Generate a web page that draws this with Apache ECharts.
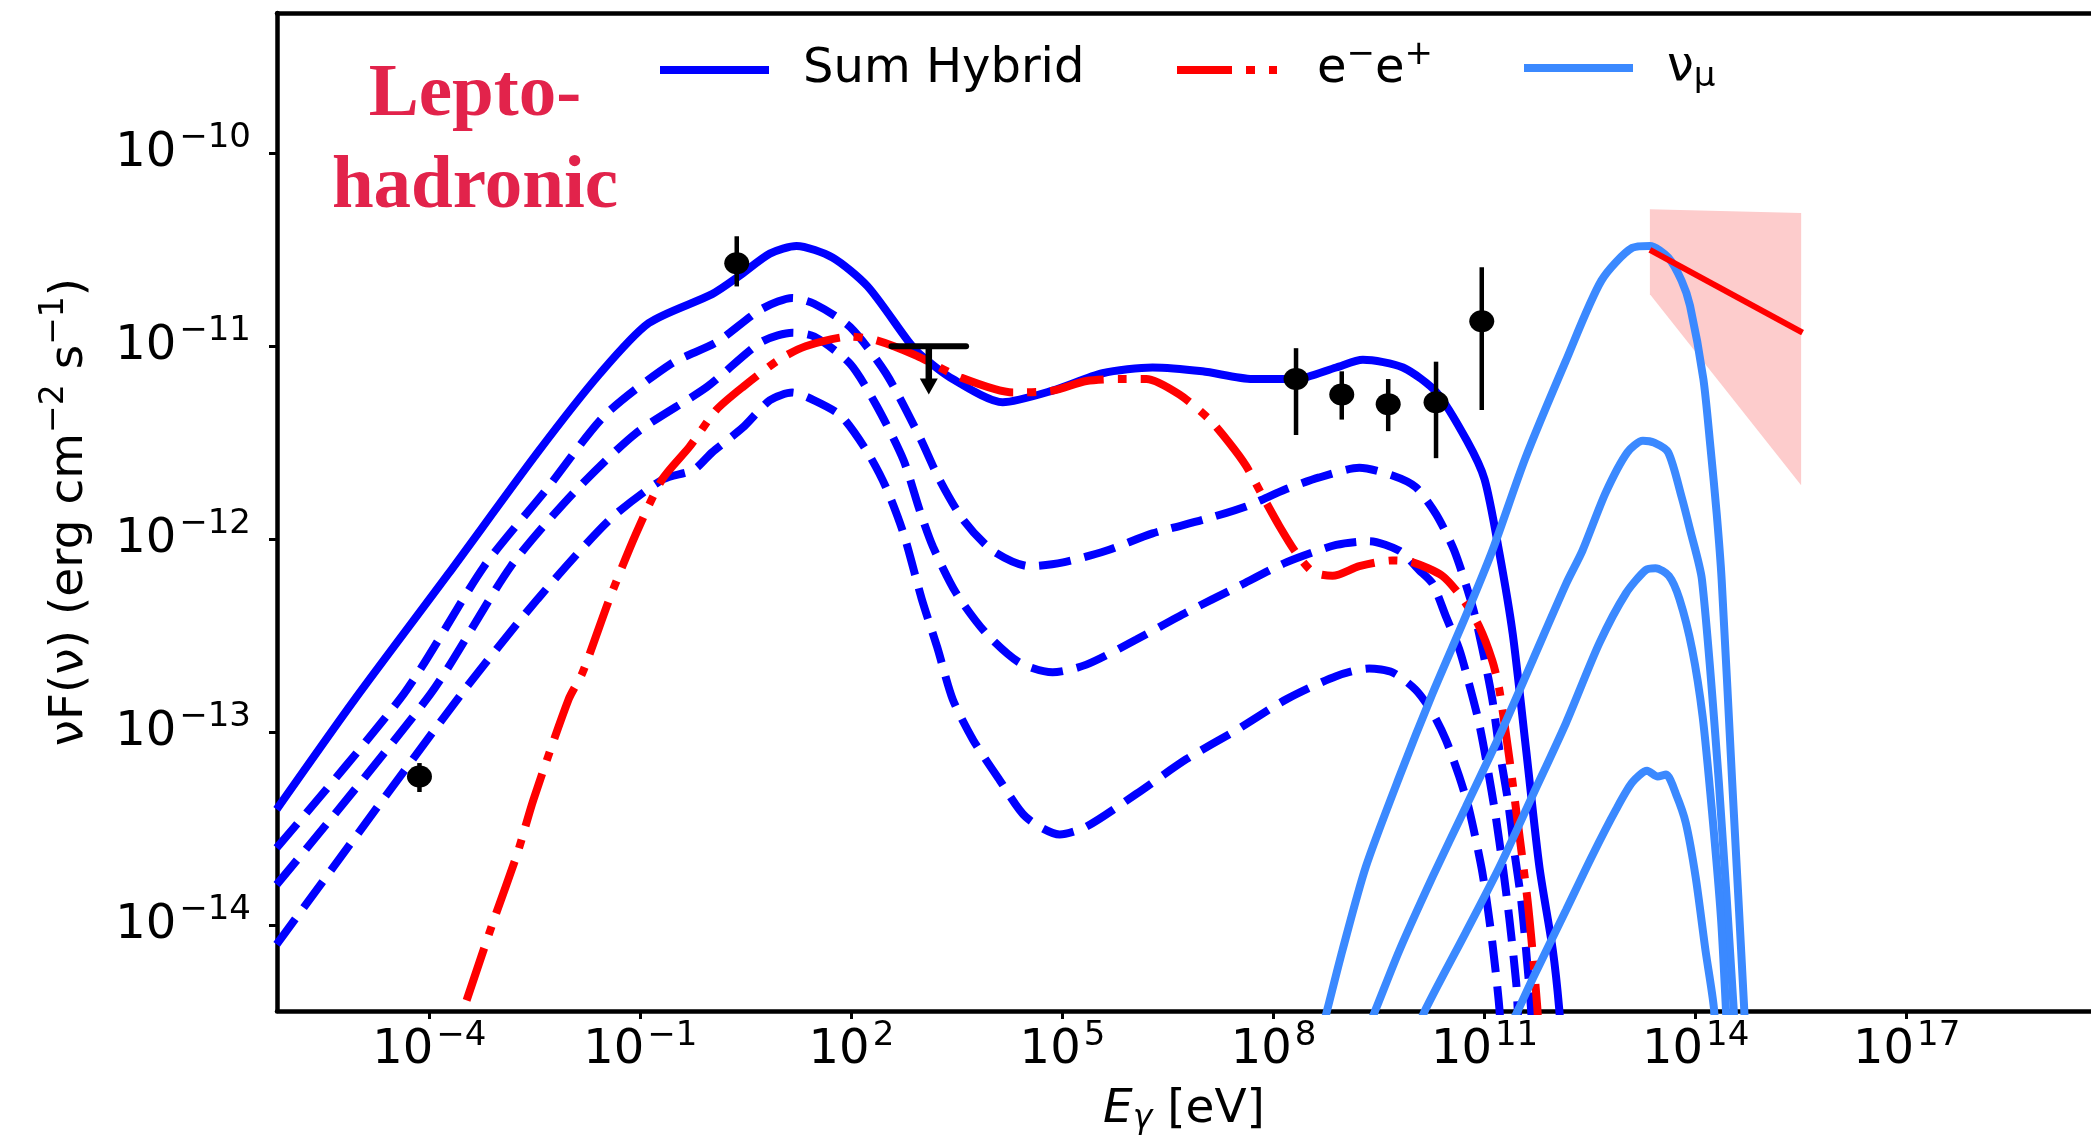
<!DOCTYPE html>
<html>
<head>
<meta charset="utf-8">
<title>Lepto-hadronic SED</title>
<script src="https://cdn.jsdelivr.net/npm/echarts@6.0.0/dist/echarts.min.js"></script>
<style>
  html, body { margin: 0; padding: 0; background: #ffffff; }
  #chart { width: 2091px; height: 1138px; }
</style>
</head>
<body>
<div id="chart"></div>
<script>
// every value below is a log10: x = log10(E / eV), y = log10(nuF(nu) / erg cm^-2 s^-1)
var xTicks = [-4, -1, 2, 5, 8, 11, 14, 17];
var yTicks = [-14, -13, -12, -11, -10];

// total hybrid model
var sumHybrid = [
  [-6.17, -13.40], [-5.06, -12.83], [-3.73, -12.18], [-2.46, -11.55], [-1.57, -11.14],
  [-0.88, -10.88], [0.02, -10.73], [0.39, -10.64], [0.84, -10.52], [1.22, -10.48],
  [1.73, -10.54], [2.23, -10.69], [2.80, -10.97], [2.97, -11.04], [3.44, -11.17],
  [4.15, -11.29], [4.86, -11.23], [5.57, -11.14], [6.28, -11.11], [6.99, -11.13],
  [7.70, -11.17], [8.32, -11.17], [8.89, -11.11], [9.27, -11.07], [9.84, -11.11],
  [10.32, -11.24], [10.75, -11.49], [11.00, -11.69], [11.21, -12.07], [11.40, -12.49],
  [11.59, -13.09], [11.78, -13.70], [11.97, -14.13], [12.06, -14.43], [12.12, -14.75]
];
// dashed hybrid curves (no legend entry)
var hybridA = [
  [-6.17, -13.60], [-4.36, -12.80], [-3.22, -12.14], [-2.33, -11.74], [-1.51, -11.36],
  [-0.56, -11.09], [0.08, -10.98], [0.71, -10.81], [1.16, -10.75], [1.47, -10.78],
  [1.98, -10.90], [2.49, -11.14], [2.97, -11.47], [3.25, -11.69], [3.59, -11.90],
  [4.01, -12.06], [4.53, -12.14], [5.01, -12.12], [5.62, -12.06], [6.28, -11.97],
  [6.99, -11.90], [7.61, -11.83], [8.18, -11.74], [8.65, -11.68], [9.22, -11.63],
  [9.69, -11.67], [10.02, -11.73], [10.31, -11.87], [10.57, -12.06], [10.83, -12.35],
  [10.97, -12.57], [11.11, -12.83], [11.21, -13.09], [11.33, -13.35], [11.42, -13.61],
  [11.52, -13.87], [11.59, -14.13], [11.66, -14.43], [11.70, -14.70]
];
var hybridB = [
  [-6.17, -13.79], [-3.98, -12.80], [-2.84, -12.14], [-1.95, -11.76], [-1.06, -11.45],
  [-0.05, -11.21], [0.71, -10.98], [1.16, -10.93], [1.47, -10.95], [1.98, -11.09],
  [2.36, -11.31], [2.74, -11.59], [2.97, -11.85], [3.16, -12.04], [3.49, -12.28],
  [3.92, -12.49], [4.39, -12.64], [4.86, -12.69], [5.34, -12.65], [6.05, -12.52],
  [6.76, -12.38], [7.47, -12.25], [8.18, -12.12], [8.89, -12.03], [9.36, -12.01],
  [9.79, -12.06], [10.07, -12.16], [10.26, -12.23], [10.45, -12.40], [10.64, -12.57],
  [10.78, -12.75], [10.92, -12.95], [11.04, -13.18], [11.16, -13.44], [11.26, -13.70],
  [11.35, -13.96], [11.45, -14.30], [11.47, -14.43], [11.50, -14.70]
];
var hybridC = [
  [-6.17, -14.10], [-3.54, -12.80], [-2.46, -12.31], [-1.44, -11.90], [-0.68, -11.69],
  [-0.24, -11.64], [0.02, -11.55], [0.46, -11.42], [0.84, -11.28], [1.16, -11.24],
  [1.47, -11.28], [1.85, -11.36], [2.23, -11.55], [2.49, -11.73], [2.74, -11.97],
  [3.00, -12.31], [3.22, -12.56], [3.44, -12.83], [3.73, -13.04], [4.11, -13.25],
  [4.48, -13.44], [4.96, -13.53], [5.34, -13.49], [6.05, -13.32], [6.76, -13.14],
  [7.47, -12.99], [8.18, -12.83], [8.89, -12.71], [9.36, -12.67], [9.69, -12.69],
  [10.02, -12.78], [10.26, -12.90], [10.45, -13.04], [10.64, -13.23], [10.78, -13.40],
  [10.97, -13.73], [11.11, -14.09], [11.21, -14.43], [11.25, -14.70]
];
// pair component e-e+
var pairs = [
  [-3.47, -14.39], [-3.09, -13.98], [-2.75, -13.63], [-2.52, -13.35], [-2.02, -12.83],
  [-1.82, -12.69], [-1.44, -12.31], [-1.06, -11.97], [-0.69, -11.69], [-0.30, -11.52],
  [0.08, -11.33], [0.46, -11.21], [0.97, -11.07], [1.35, -11.00], [1.98, -10.95],
  [2.36, -10.97], [2.93, -11.05], [3.54, -11.16], [4.30, -11.24], [4.86, -11.23],
  [5.34, -11.18], [5.81, -11.17], [6.19, -11.17], [6.66, -11.25], [7.09, -11.38],
  [7.37, -11.50], [7.61, -11.62], [7.85, -11.78], [8.08, -11.93], [8.32, -12.07],
  [8.56, -12.17], [8.84, -12.19], [9.22, -12.14], [9.69, -12.11], [9.98, -12.12],
  [10.40, -12.19], [10.69, -12.31], [10.92, -12.45], [11.11, -12.63], [11.21, -12.78],
  [11.35, -13.13], [11.49, -13.52], [11.61, -13.87], [11.68, -14.13], [11.75, -14.43],
  [11.79, -14.70]
];
// muon neutrino curves
var nuA = [
  [8.58, -14.70], [8.77, -14.43], [8.98, -14.13], [9.31, -13.70], [9.79, -13.23],
  [10.26, -12.80], [10.73, -12.40], [11.11, -12.06], [11.58, -11.58], [12.15, -11.08],
  [12.66, -10.66], [13.10, -10.49], [13.35, -10.48], [13.61, -10.54], [13.80, -10.66],
  [13.92, -10.79], [14.11, -11.17], [14.21, -11.52], [14.30, -11.87], [14.37, -12.21],
  [14.52, -13.26], [14.69, -14.43], [14.72, -14.70]
];
var nuB = [
  [9.16, -14.70], [9.46, -14.43], [9.79, -14.13], [10.26, -13.75], [10.73, -13.39],
  [11.21, -13.02], [11.68, -12.63], [12.16, -12.23], [12.39, -12.06], [12.72, -11.76],
  [13.03, -11.55], [13.25, -11.49], [13.41, -11.50], [13.61, -11.55], [13.80, -11.78],
  [13.92, -11.95], [14.09, -12.21], [14.33, -13.26], [14.54, -14.43], [14.57, -14.70]
];
var nuC = [
  [9.85, -14.70], [10.17, -14.43], [10.73, -14.04], [11.21, -13.70], [11.68, -13.33],
  [12.16, -12.95], [12.63, -12.54], [13.01, -12.28], [13.29, -12.16], [13.43, -12.15],
  [13.62, -12.19], [13.77, -12.31], [13.95, -12.57], [14.10, -12.92], [14.24, -13.44],
  [14.36, -13.96], [14.43, -14.43], [14.46, -14.70]
];
var nuD = [
  [11.13, -14.70], [11.49, -14.43], [11.68, -14.28], [12.16, -13.92], [12.53, -13.64],
  [12.87, -13.40], [13.10, -13.26], [13.31, -13.20], [13.46, -13.23], [13.58, -13.22],
  [13.72, -13.32], [13.86, -13.47], [14.00, -13.75], [14.14, -14.13], [14.26, -14.43],
  [14.29, -14.70]
];

// measured fluxes with error bars
var pointsX = [-4.14, 0.37, 8.32, 8.97, 9.63, 10.31, 10.96];
var pointsY = [-13.23, -10.57, -11.17, -11.25, -11.30, -11.29, -10.87];
var errLow = [-13.31, -10.69, -11.46, -11.38, -11.44, -11.58, -11.33];
var errHigh = [-13.16, -10.43, -11.01, -11.13, -11.17, -11.08, -10.59];

// upper limit: centre, x extent, arrow tip
var ulX = 3.10, ulY = -11.00, ulXLow = 2.57, ulXHigh = 3.63, ulTip = -11.25;

// neutrino power law and its band
var plX = [13.35, 15.52];
var plY = [-10.50, -10.93];
var bandX = [13.35, 15.50];
var bandLow = [-10.73, -11.72];
var bandHigh = [-10.29, -10.31];

var FONT = 'DejaVu Sans';
var supStyle = { fontSize: 34, fontFamily: FONT, color: '#000', padding: [0, 0, 30, 3] };

function pow10(v) {
  return '{b|10}{s|' + (v < 0 ? '\u2212' : '') + Math.abs(v) + '}';
}

function curve(name, data, color, type) {
  return {
    type: 'line',
    name: name,
    data: data,
    symbol: 'none',
    smooth: 0.25,
    clip: true,
    lineStyle: { color: color, width: 8, type: type, cap: 'butt' },
    itemStyle: { color: color }
  };
}

var dashed = [32, 14];
var dashDot = [55, 14, 9, 14];
var nuColor = '#3b89ff';

function legendOf(name, left, top, width, gap, lineType, formatter, rich) {
  return {
    data: [name],
    left: left,
    top: top,
    padding: 0,
    itemWidth: width,
    itemHeight: 20,
    formatter: formatter,
    lineStyle: { width: 8, type: lineType, cap: 'butt' },
    itemStyle: { opacity: 0 },
    textStyle: { fontSize: 48, fontFamily: FONT, color: '#000', padding: [0, 0, 0, gap], rich: rich }
  };
}

var myChart = echarts.init(document.getElementById('chart'));

var option = {
  animation: false,
  backgroundColor: '#ffffff',
  grid: { left: 277, right: 0, top: 13, bottom: 127, outerBoundsMode: 'none' },
  xAxis: [
    {
      type: 'value',
      min: -6.165,
      max: 19.62,
      position: 'bottom',
      axisLine: { show: true, onZero: false, lineStyle: { color: '#000', width: 4.5 } },
      axisTick: { show: true, customValues: xTicks, length: 8, lineStyle: { color: '#000', width: 3 } },
      axisLabel: {
        customValues: xTicks,
        margin: 8,
        formatter: pow10,
        rich: { b: { fontSize: 48, fontFamily: FONT, color: '#000' }, s: supStyle }
      },
      splitLine: { show: false },
      name: '{i|E}{u|\u03b3}{n| [eV]}',
      nameLocation: 'middle',
      nameGap: 72,
      nameMoveOverlap: false,
      nameTextStyle: {
        rich: {
          i: { fontSize: 47, fontFamily: FONT, fontStyle: 'italic', color: '#000' },
          u: { fontSize: 33, fontFamily: FONT, fontStyle: 'italic', color: '#000', padding: [20, 0, 0, 0] },
          n: { fontSize: 47, fontFamily: FONT, color: '#000' }
        }
      }
    },
    {
      type: 'value',
      min: -6.165,
      max: 19.62,
      position: 'top',
      axisLine: { show: true, onZero: false, lineStyle: { color: '#000', width: 4.5 } },
      axisTick: { show: false },
      axisLabel: { show: false },
      splitLine: { show: false }
    }
  ],
  yAxis: {
    type: 'value',
    min: -14.445,
    max: -9.273,
    axisLine: { show: true, onZero: false, lineStyle: { color: '#000', width: 4.5 } },
    axisTick: { show: true, customValues: yTicks, length: 8, lineStyle: { color: '#000', width: 3 } },
    axisLabel: {
      customValues: yTicks,
      margin: 26,
      formatter: pow10,
      rich: { b: { fontSize: 48, fontFamily: FONT, color: '#000' }, s: supStyle }
    },
    splitLine: { show: false },
    name: '{n|\u03bdF(\u03bd) (erg cm}{s|\u22122}{n| s}{s|\u22121}{n|)}',
    nameLocation: 'middle',
    nameGap: 176,
    nameMoveOverlap: false,
    nameTextStyle: {
      rich: {
        n: { fontSize: 47, fontFamily: FONT, color: '#000' },
        s: { fontSize: 33, fontFamily: FONT, color: '#000', padding: [0, 0, 30, 0] }
      }
    }
  },
  legend: [
    legendOf('Sum Hybrid', 656, 46, 109, 29, 'solid'),
    legendOf('e-e+', 1173, 38, 100, 35, dashDot,
      function () { return '{n|e}{s|\u2212}{n|e}{s|+}'; },
      { n: { fontSize: 48, fontFamily: FONT, color: '#000' },
        s: { fontSize: 34, fontFamily: FONT, color: '#000', padding: [0, 0, 30, 0] } }),
    legendOf('nu_mu', 1520, 44, 109, 29, 'solid',
      function () { return '{n|\u03bd}{u|\u03bc}'; },
      { n: { fontSize: 48, fontFamily: FONT, color: '#000' },
        u: { fontSize: 34, fontFamily: FONT, color: '#000', padding: [18, 0, 0, 0] } })
  ],
  graphic: [
    {
      type: 'text',
      x: 475,
      y: 142,
      z: 10,
      style: {
        text: 'Lepto-\nhadronic',
        fill: '#e2234b',
        font: 'bold 75px "Liberation Serif"',
        lineHeight: 92,
        textAlign: 'center',
        textVerticalAlign: 'middle'
      }
    }
  ],
  series: [
    curve('hybrid 1', hybridA, '#0000ff', dashed),
    curve('hybrid 2', hybridB, '#0000ff', dashed),
    curve('hybrid 3', hybridC, '#0000ff', dashed),
    curve('Sum Hybrid', sumHybrid, '#0000ff', 'solid'),
    curve('e-e+', pairs, '#ff0000', dashDot),
    curve('nu_mu', nuA, nuColor, 'solid'),
    curve('nu_mu', nuB, nuColor, 'solid'),
    curve('nu_mu', nuC, nuColor, 'solid'),
    curve('nu_mu', nuD, nuColor, 'solid'),
    {
      // shaded band of the neutrino power law
      type: 'custom',
      name: 'band',
      data: bandX.map(function (x, i) { return [x, bandLow[i], bandHigh[i]]; }),
      encode: { x: 0, y: [1, 2] },
      renderItem: function (params, api) {
        if (params.dataIndex !== 0) return null;
        var pts = [];
        for (var i = 0; i < bandX.length; i++) pts.push(api.coord([bandX[i], bandHigh[i]]));
        for (var j = bandX.length - 1; j >= 0; j--) pts.push(api.coord([bandX[j], bandLow[j]]));
        return { type: 'polygon', shape: { points: pts }, style: { fill: '#fdcccc' } };
      },
      z: 1
    },
    {
      type: 'line',
      name: 'power law',
      data: plX.map(function (x, i) { return [x, plY[i]]; }),
      symbol: 'none',
      lineStyle: { color: '#ff0000', width: 6 },
      z: 3
    },
    {
      // vertical error bars
      type: 'custom',
      name: 'errors',
      data: pointsX.map(function (x, i) { return [x, errLow[i], errHigh[i]]; }),
      encode: { x: 0, y: [1, 2] },
      renderItem: function (params, api) {
        var lo = api.coord([api.value(0), api.value(1)]);
        var hi = api.coord([api.value(0), api.value(2)]);
        return {
          type: 'line',
          shape: { x1: lo[0], y1: lo[1], x2: hi[0], y2: hi[1] },
          style: { stroke: '#000', lineWidth: 4.5 }
        };
      },
      z: 4
    },
    {
      type: 'scatter',
      name: 'data',
      data: pointsX.map(function (x, i) { return [x, pointsY[i]]; }),
      symbol: 'circle',
      symbolSize: [25, 22],
      itemStyle: { color: '#000', opacity: 1 },
      z: 5
    },
    {
      // upper limit with downward arrow
      type: 'custom',
      name: 'upper limit',
      data: [[ulX, ulY, ulXLow, ulXHigh, ulTip]],
      encode: { x: [0, 2, 3], y: [1, 4] },
      renderItem: function (params, api) {
        var c = api.coord([api.value(0), api.value(1)]);
        var l = api.coord([api.value(2), api.value(1)]);
        var r = api.coord([api.value(3), api.value(1)]);
        var t = api.coord([api.value(0), api.value(4)]);
        return {
          type: 'group',
          children: [
            { type: 'line', shape: { x1: l[0], y1: l[1], x2: r[0], y2: r[1] }, style: { stroke: '#000', lineWidth: 6, lineCap: 'round' } },
            { type: 'line', shape: { x1: c[0], y1: c[1], x2: t[0], y2: t[1] - 10 }, style: { stroke: '#000', lineWidth: 6.5 } },
            { type: 'polygon', shape: { points: [[t[0] - 9, t[1] - 16], [t[0] + 9, t[1] - 16], [t[0], t[1]]] }, style: { fill: '#000' } }
          ]
        };
      },
      z: 5
    }
  ]
};

myChart.setOption(option);
</script>
</body>
</html>
